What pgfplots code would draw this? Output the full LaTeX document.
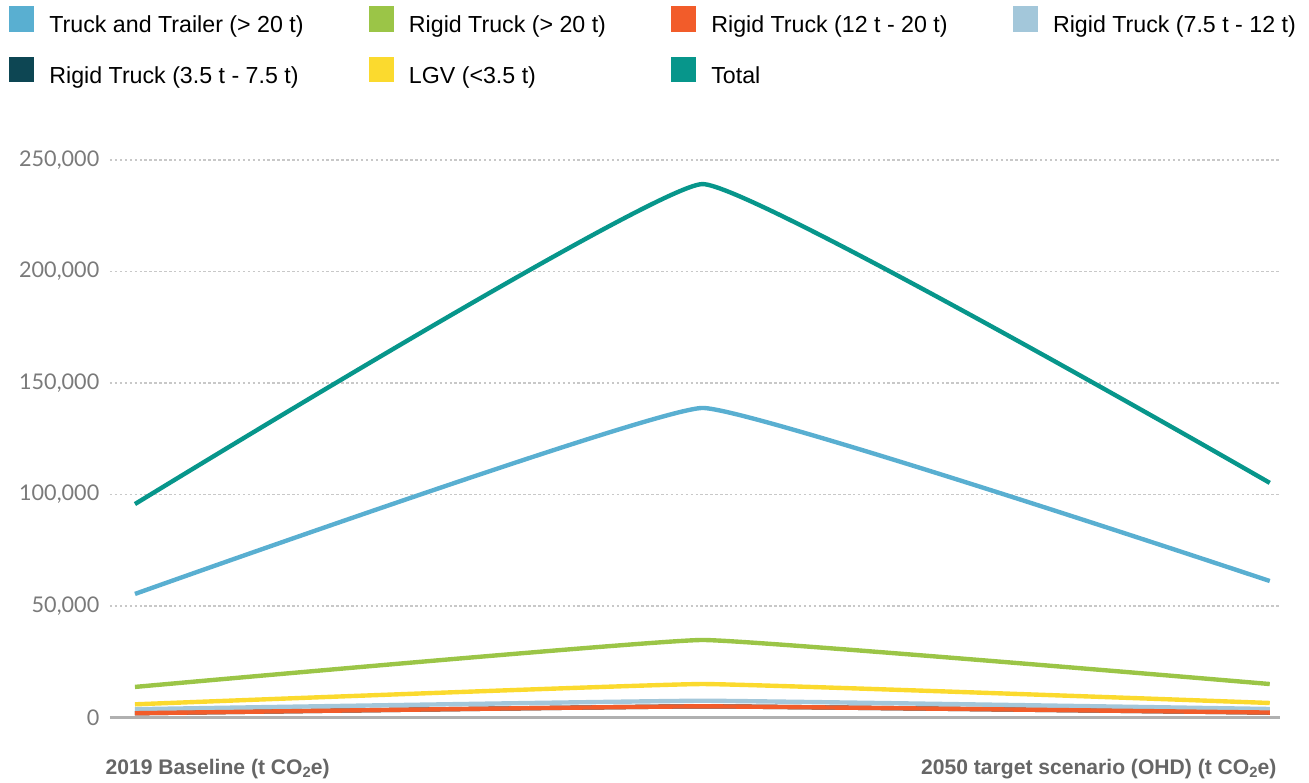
\documentclass[border=0pt]{standalone}
\usepackage{pgfplots}
\pgfplotsset{compat=1.18}
\usepackage{fontspec}
\setmainfont{Liberation Sans}
\newfontfamily\latofont{Lato}

\definecolor{cTT}{HTML}{59AFD1}
\definecolor{cRTa}{HTML}{9BC547}
\definecolor{cRTb}{HTML}{F25C2A}
\definecolor{cRTc}{HTML}{A3C7DA}
\definecolor{cRTd}{HTML}{0D4653}
\definecolor{cLGV}{HTML}{FBDA2E}
\definecolor{cTot}{HTML}{07968B}
\definecolor{tickgray}{HTML}{7A7A7A}
\definecolor{labgray}{HTML}{666666}
\definecolor{gridgray}{HTML}{C8C8C8}
\definecolor{axisgray}{HTML}{B0B0B0}

\newcommand{\subtwo}{\raisebox{-0.25ex}{\fontsize{4.2}{5}\selectfont 2}}

\begin{document}
\begin{tikzpicture}
\useasboundingbox (-1.10,-0.655) rectangle (11.99,7.175);
\begin{axis}[
    at={(0,0)}, anchor=south west,
    scale only axis,
    width=11.7cm, height=5.575cm,
    xmin=-0.044, xmax=2.018,
    ymin=0, ymax=250000,
    ytick={0,50000,100000,150000,200000,250000},
    yticklabels={0,{50,000},{100,000},{150,000},{200,000},{250,000}},
    xtick=\empty,
    scaled y ticks=false,
    axis x line*=bottom, axis y line*=left,
    x axis line style={draw=axisgray, line width=1pt, -},
    y axis line style={draw=none},
    ymajorgrids,
    major grid style={gridgray, dash pattern=on 0.7pt off 0.7pt, line width=0.45pt},
    major tick length=0pt,
    yticklabel style={font=\latofont\fontsize{6.15}{7}\selectfont, text=tickgray, inner sep=0pt, xshift=-0.1cm},
    clip=false,
    legend columns=4,
    legend image code/.code={\fill[#1] (0cm,-0.035cm) rectangle (0.21cm,0.175cm);},
    legend style={at={(-0.0863,1.276)}, anchor=north west, draw=none, fill=none,
        inner sep=0pt, outer sep=0pt, row sep=0.18cm,
        font=\fontsize{6.6}{8}\selectfont,
        nodes={inner sep=0pt, text height=0.2cm, text depth=0.06cm},
        cells={anchor=west},
        /tikz/every odd column/.append style={column sep=0.15cm},
        /tikz/every even column/.append style={column sep=0.65cm}},
    every axis plot/.append style={line width=1.25pt, smooth, tension=0.15},
]
% legend entries in the reference order
\addlegendimage{cTT}\addlegendentry{Truck and Trailer (> 20 t)}
\addlegendimage{cRTa}\addlegendentry{Rigid Truck (> 20 t)}
\addlegendimage{cRTb}\addlegendentry{Rigid Truck (12 t - 20 t)}
\addlegendimage{cRTc}\addlegendentry{Rigid Truck (7.5 t - 12 t)}
\addlegendimage{cRTd}\addlegendentry{Rigid Truck (3.5 t - 7.5 t)}
\addlegendimage{cLGV}\addlegendentry{LGV (<3.5 t)}
\addlegendimage{cTot}\addlegendentry{Total}

% series (the 3.5-7.5 t line sits under the 12-20 t line)
\addplot[cRTd, forget plot] coordinates {(0,1900) (1,5000) (2,2200)};
\addplot[cTT, forget plot] coordinates {(0,55400) (1,138800) (2,61200)};
\addplot[cRTa, forget plot] coordinates {(0,13700) (1,34750) (2,15000)};
\addplot[cRTc, forget plot] coordinates {(0,3700) (1,7500) (2,3800)};
\addplot[cRTb, forget plot] coordinates {(0,1900) (1,5000) (2,2200)};
\addplot[cLGV, forget plot] coordinates {(0,5900) (1,15000) (2,6500)};
\addplot[cTot, forget plot] coordinates {(0,95700) (1,239200) (2,105200)};
\end{axis}
\node[anchor=base west, inner sep=0pt, text=labgray, font=\bfseries\fontsize{6.0}{7}\selectfont] at (-0.05,-0.575) {2019 Baseline (t CO\subtwo e)};
\node[anchor=base east, inner sep=0pt, text=labgray, font=\bfseries\fontsize{6.0}{7}\selectfont] at (11.67,-0.575) {2050 target scenario (OHD) (t CO\subtwo e)};
\end{tikzpicture}
\end{document}
